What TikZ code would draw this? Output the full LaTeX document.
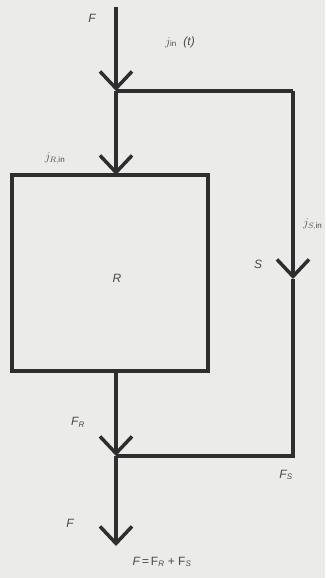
\documentclass[tikz,border=0pt]{standalone}
\usepackage{fontspec}
\setmainfont{Liberation Sans}
\usetikzlibrary{arrows.meta}
\definecolor{bg}{HTML}{EBEBE9}
\definecolor{ink}{HTML}{2E2E2E}
\definecolor{txt}{HTML}{4A4A4A}
\tikzset{
  flow/.style={draw=ink, line width=3.5pt},
  arr/.style={flow, -{Straight Barb[length=17pt, width=32pt, line width=3.5pt]}},
  lbl/.style={text=txt, font=\itshape\fontsize{12}{14}\selectfont, inner sep=0pt},
  box/.style={draw=ink, line width=3.5pt, minimum width=196pt, minimum height=196pt, inner sep=0pt}
}
\begin{document}
\begin{tikzpicture}[x=1pt,y=-1pt]
  \fill[bg] (0,0) rectangle (325,578);
  \useasboundingbox (0,0) rectangle (325,578);
  % nodes / coordinates
  \node[box] (R) at (110,273) {};
  \coordinate (top) at (116,7);
  \coordinate (j1) at (116,91);
  \coordinate (rin) at (116,175);
  \coordinate (rout) at (116,371);
  \coordinate (j2) at (116,456);
  \coordinate (bot) at (116,546);
  \coordinate (c1) at (293,91);
  \coordinate (sarr) at (293,279);
  \coordinate (c2) at (293,456);
  % connectors
  \draw[arr] (top) -- (j1);
  \draw[arr] (j1) -- (rin);
  \draw[flow] (j1) -- (c1);
  \draw[arr] (c1) -- (sarr);
  \draw[flow] (sarr) -- (c2) -- (j2);
  \draw[arr] (rout) -- (j2);
  \draw[arr] (j2) -- (bot);
  % labels
  \node[lbl] (lF1) at (92,18) {F};
  \node[lbl] (ljin) at (180,42) {$j_{\mathrm{in}}$ \ (t)};
  \node[lbl] (ljrin) at (55,158) {$j_{R,\mathrm{in}}$};
  \node[lbl] (lR) at (117,278) {R};
  \node[lbl] (lS) at (258,264) {S};
  \node[lbl, anchor=west] (ljsin) at (303,224) {$j_{S,\mathrm{in}}$};
  \node[lbl] (lFR) at (78,422) {F\textsubscript{\itshape R}};
  \node[lbl] (lFS) at (286,475) {F\textsubscript{\itshape S}};
  \node[lbl] (lF2) at (70,523) {F};
  \node[lbl] (leq) at (162,562) {F\,=\,\upshape F\textsubscript{\itshape R} + F\textsubscript{\itshape S}};
\end{tikzpicture}
\end{document}
